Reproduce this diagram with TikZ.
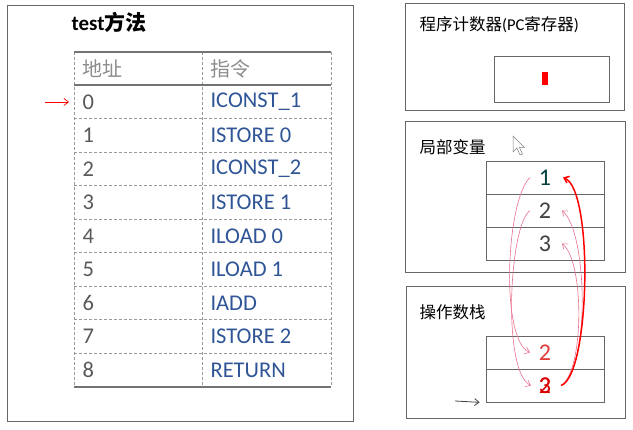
\documentclass[tikz,border=0pt]{standalone}
\usepackage{fontspec}
\setmainfont{Carlito}
\newfontfamily\cjk{Noto Sans CJK SC}
\usetikzlibrary{arrows.meta}

\definecolor{insblue}{HTML}{2F5597}
\definecolor{numgray}{HTML}{595959}
\definecolor{pinkline}{HTML}{E8708E}
\definecolor{stackred}{HTML}{E03A3A}

\begin{document}
\begin{tikzpicture}[x=1pt,y=-1pt,>={Straight Barb[length=4.5pt,width=7pt]},
    panel/.style={draw=black!60,line width=0.8pt},
    cell/.style={draw=black!60,line width=0.7pt,minimum width=118pt,minimum height=33pt,inner sep=0pt},
    grid/.style={draw=black!40,densely dashed,line width=0.5pt},
    thick/.style={draw=black!55,line width=2pt},
    num/.style={anchor=west,text=numgray,font=\fontsize{22.5}{22.5}\selectfont},
    ins/.style={anchor=west,text=insblue,font=\fontsize{22.5}{22.5}\selectfont},
    head/.style={anchor=west,text=black!45,font=\fontsize{20}{20}\selectfont\cjk},
    ptitle/.style={anchor=west,font=\fontsize{16.5}{16.5}\selectfont},
    val/.style={font=\fontsize{24}{24}\selectfont},
    hand/.style={->,pinkline,line width=0.6pt},
    handbold/.style={->,red,line width=1.5pt}]
\useasboundingbox (0,0) rectangle (633,430);

% left panel: the method
\draw[panel] (7,5) rectangle (353,421);
\node[anchor=west,font=\fontsize{21}{21}\selectfont\bfseries] (mtitle) at (68,22) {test{\cjk 方法}};

\foreach \i in {1,...,8}
  \draw[grid] (74,85+33.5*\i) -- (331,85+33.5*\i);
\draw[grid] (74,52) -- (74,387);
\draw[grid] (202,52) -- (202,387);
\draw[grid] (331,52) -- (331,387);
\draw[thick] (74,52) -- (331,52);
\draw[thick] (74,85) -- (331,85);
\draw[thick] (74,387) -- (331,387);

\node[head] (haddr) at (79,69) {地址};
\node[head] (hins) at (207,69) {指令};
\foreach \i/\ins in {0/ICONST\_1,1/ISTORE 0,2/ICONST\_2,3/ISTORE 1,4/ILOAD 0,
                     5/ILOAD 1,6/IADD,7/ISTORE 2,8/RETURN}{
  \node[num] (a\i) at (79,102+33.5*\i) {\i};
  \node[ins] (c\i) at (207,102+33.5*\i) {\ins};
}
\coordinate (pcarrow) at (45,102);
\draw[->,red,line width=0.7pt] (pcarrow) -- ([xshift=-10pt]a0.west);

% program counter
\draw[panel] (405,3) rectangle (624,110);
\node[ptitle] (pctitle) at (416,25) {{\cjk 程序计数器}(PC{\cjk 寄存器})};
\draw[cell] (494,56) rectangle (609,102);
\node[fill=red,minimum width=6pt,minimum height=13pt,inner sep=0pt] (pcval) at (545,79) {};

% local variables
\draw[panel] (405,121) rectangle (625,272);
\node[ptitle] (lvtitle) at (416,147) {\cjk 局部变量};
\node[cell,val,text=teal!50!black] (lv1) at (545,177.5) {1};
\node[cell,val,text=black!75] (lv2) at (545,210.5) {2};
\node[cell,val,text=black!75] (lv3) at (545,243.5) {3};
\draw[fill=white,draw=black!50,line width=0.5pt] (513,136) -- (513,152) -- (517,148)
  -- (520,155) -- (522.5,154) -- (519.5,147.5) -- (524.5,147.5) -- cycle;

% operand stack
\draw[panel] (406,286) rectangle (625,418);
\node[ptitle] (sttitle) at (416,312) {\cjk 操作数栈};
\node[cell,val,text=stackred] (st1) at (545,352.5) {2};
\node[cell,val,text=red!85!black] (st2) at (545,385.5) {2};
\node[val,text=red!85!black] (st2b) at (545,385.5) {3};
\coordinate (sparrow) at (455,401);
\draw[->,black!75,line width=0.8pt] (sparrow) -- ([xshift=-6pt]st2.south west);

% hand drawn marks
\draw[hand] ([xshift=-15pt]lv1.center) .. controls (506,200) and (500,340) .. ([xshift=-15pt]st1.center);
\draw[hand] ([xshift=-15pt]lv2.center) .. controls (509,225) and (502,372) .. ([xshift=-14pt]st2.center);
\draw[hand] ([xshift=16pt]st2.center) .. controls (590,370) and (588,232) .. ([xshift=17pt]lv2.center);
\draw[hand] ([xshift=16pt]st2.center) .. controls (584,372) and (585,262) .. ([xshift=17pt]lv3.center);
\draw[handbold] ([xshift=16pt]st2.center) .. controls (590,376) and (594,190) .. ([xshift=18pt]lv1.center);
\end{tikzpicture}
\end{document}
